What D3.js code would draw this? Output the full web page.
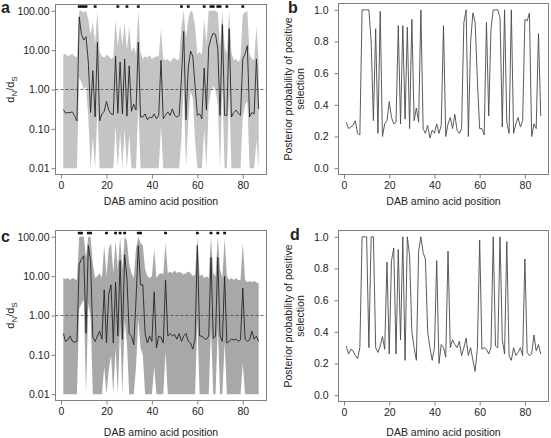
<!DOCTYPE html>
<html><head><meta charset="utf-8">
<script src="https://cdn.jsdelivr.net/npm/d3@7"></script>
<style>
body{margin:0;background:#fff}
svg{display:block}
text{font-family:"Liberation Sans",Arial,Helvetica,sans-serif;fill:#222}
</style></head>
<body><svg id="chart" width="551" height="438"></svg>
<script>
// ---------------- data ----------------
const sites = d3.range(1, 88); // DAB amino acid positions 1..87

// panel a : dN/dS median and credible band, panel b: posterior probability
const aMedian = [0.31,0.25,0.26,0.26,0.27,0.21,0.16,70,25,18,22,5,0.26,3,0.2,16,0.16,0.24,0.28,0.5,0.3,0.24,0.23,7,0.25,5,0.24,6,0.21,4,0.28,0.42,0.3,16,0.2,0.2,0.24,0.17,0.2,0.19,0.24,0.18,0.22,5.5,0.18,0.22,0.27,0.22,0.32,0.22,0.2,0.22,2,30,0.17,3.5,9.5,7,1.2,0.22,0.24,0.18,3.5,0.3,12,20,27,25,11,0.22,45,0.22,0.22,35,0.2,0.26,0.3,0.25,0.22,6,8,13,0.2,0.26,0.24,6,0.32];
const aUpper = [7.5,8,7,7.5,8,7,6.5,100,100,90,100,60,25,50,15,100,9,7,6.5,7.5,7,6,6.5,60,12,45,14,50,10,40,9,12,8,100,9,6,7,6.5,7.5,6,6.5,7,7,35,6,5.5,6,5,6,6.5,5.5,6,40,100,20,60,100,90,40,8,9,7.5,60,15,100,100,100,100,90,12,100,12,8,100,9,5.5,6,5,6,80,90,100,8,6,5.5,40,5];
const aLower = [0.01,0.01,0.01,0.01,0.01,0.01,0.01,2,1.5,1,1.2,0.2,0.01,0.06,0.01,0.3,0.01,0.01,0.01,0.01,0.01,0.01,0.01,0.12,0.01,0.08,0.01,0.1,0.01,0.07,0.01,0.01,0.01,0.4,0.01,0.01,0.01,0.01,0.01,0.01,0.01,0.01,0.01,0.12,0.01,0.01,0.01,0.01,0.01,0.01,0.01,0.01,0.06,1.2,0.01,0.15,0.9,0.6,0.05,0.01,0.01,0.01,0.1,0.01,0.4,0.9,1.2,1.0,0.4,0.01,1.2,0.01,0.01,0.9,0.01,0.01,0.01,0.01,0.01,0.2,0.4,0.5,0.01,0.01,0.01,0.05,0.01];
const bProb = [0.29,0.25,0.26,0.27,0.30,0.22,0.21,1.0,1.0,1.0,1.0,0.8,0.30,0.88,0.22,0.99,0.20,0.28,0.30,0.42,0.32,0.28,0.29,0.90,0.28,0.90,0.31,0.89,0.25,0.94,0.30,0.38,0.29,1.0,0.25,0.22,0.27,0.19,0.24,0.22,0.28,0.22,0.27,0.90,0.20,0.28,0.32,0.25,0.34,0.24,0.22,0.25,0.92,1.0,0.20,0.80,0.98,0.92,0.55,0.25,0.25,0.21,0.92,0.33,0.88,1.0,1.0,1.0,0.95,0.26,1.0,0.29,0.22,1.0,0.22,0.28,0.32,0.26,0.30,0.94,0.93,0.98,0.20,0.28,0.25,0.85,0.33];
const aSigSites = [8,9,10,11,15,25,29,34,53,56,63,66,67,69,70,73,80];

// panel c : dN/dS median and band, panel d: posterior probability
const cMedian = [0.35,0.22,0.24,0.3,0.22,0.21,0.22,20,27,33,0.35,60,25,0.28,0.22,0.3,0.4,0.25,4.5,0.2,3.5,6,0.2,7,0.3,25,0.25,35,9,0.35,0.3,0.18,2.5,60,6,6,0.35,0.2,0.3,0.22,4,0.15,0.3,0.28,0.2,8,0.3,0.35,0.3,0.33,0.25,0.35,0.22,0.3,0.35,0.22,0.2,0.14,0.25,60,0.3,0.3,0.26,0.25,0.3,30,0.26,0.3,30,0.3,0.22,10,0.2,0.22,0.25,0.24,0.25,0.22,0.24,5,0.25,0.22,0.24,0.4,0.25,0.3,0.22];
const cUpper = [9,8.5,9,8,9,8.5,8,100,100,100,30,100,100,20,9,10,12,9,60,10,50,70,12,80,15,100,15,100,80,20,12,9,50,100,70,60,15,10,9,10,50,9,11,12,11,70,12,13,12,14,12,13,12,11,12,13,12,10,11,100,10,11,9,10,9,100,12,10,100,15,9,90,10,8,9,8,9,8,8,70,8,7,7.5,7,7.5,7,6.5];
const cLower = [0.01,0.01,0.01,0.01,0.01,0.01,0.01,1.5,2,2.5,0.01,2,1,0.01,0.01,0.01,0.01,0.01,0.05,0.01,0.04,0.1,0.01,0.15,0.01,0.6,0.01,0.8,0.2,0.01,0.01,0.01,0.05,0.8,0.15,0.1,0.01,0.01,0.01,0.01,0.05,0.01,0.01,0.01,0.01,0.12,0.01,0.01,0.01,0.01,0.01,0.01,0.01,0.01,0.01,0.01,0.01,0.01,0.01,0.8,0.01,0.01,0.01,0.01,0.01,0.5,0.01,0.01,0.5,0.01,0.01,0.2,0.01,0.01,0.01,0.01,0.01,0.01,0.01,0.06,0.01,0.01,0.01,0.01,0.01,0.01,0.01];
const dProb = [0.31,0.26,0.29,0.28,0.25,0.23,0.30,1.0,1.0,1.0,0.30,1.0,1.0,0.30,0.27,0.31,0.37,0.29,0.84,0.26,0.85,0.93,0.26,0.92,0.35,1.0,0.22,1.0,0.88,0.40,0.30,0.22,0.91,1.0,0.90,0.86,0.40,0.30,0.22,0.30,0.85,0.20,0.32,0.30,0.24,0.91,0.30,0.35,0.32,0.30,0.34,0.25,0.30,0.36,0.25,0.30,0.22,0.15,0.30,0.98,0.29,0.30,0.29,0.26,0.30,1.0,0.31,0.30,1.0,0.35,0.26,0.97,0.25,0.22,0.30,0.25,0.27,0.30,0.25,0.86,0.27,0.25,0.26,0.38,0.28,0.32,0.26];
const cSigSites = [8,9,12,13,20,24,26,28,34,35,46,60,66,69,72];

// axes
const logTicks = [0.01,0.1,1,10,100];
const logTickLabels = ["0.01","0.10","1.00","10.00","100.00"];
const probTicks = [0,0.2,0.4,0.6,0.8,1.0];
const probTickLabels = ["0.0","0.2","0.4","0.6","0.8","1.0"];
const xTicks = [0,20,40,60,80];
const xTitle = "DAB amino acid position";
const probTitle = ["Posterior probability of positive","selection"];
const panelLetters = ["a","b","c","d"];

// ---------------- drawing ----------------
const svg = d3.select("#chart");
const FS = 10.5;
const nS = sites.length;
const xDom = [1 - 0.04*(nS-1), nS + 0.04*(nS-1)];
const logDom = [Math.pow(10,-2.16), Math.pow(10,2.16)];
const probDom = [-0.04, 1.04];

function makeAxes(g, x, y, yTicks, yLabels, opt){
  const [x0,x1] = x.range(), [yb,yt] = y.range();
  g.append("rect").attr("x",x0).attr("y",yt).attr("width",x1-x0).attr("height",yb-yt)
    .attr("fill","none").attr("stroke","#808080").attr("stroke-width",1);
  const ax = g.append("g").attr("transform",`translate(0,${yb})`)
    .call(d3.axisBottom(x).tickValues(xTicks).tickSize(4).tickPadding(3));
  const ay = g.append("g").attr("transform",`translate(${x0},0)`)
    .call(d3.axisLeft(y).tickValues(yTicks).tickFormat((d,i)=>yLabels[i]).tickSize(4).tickPadding(opt.yPad));
  [ax,ay].forEach(a=>{
    a.select(".domain").remove();
    a.selectAll("line").attr("stroke","#808080");
    a.selectAll("text").attr("font-size",FS).attr("fill","#222")
      .style("font-family",'"Liberation Sans",Arial,sans-serif');
  });
  g.append("text").attr("x",(x0+x1)/2).attr("y",opt.titleY).attr("text-anchor","middle")
    .attr("font-size",FS).text(xTitle);
}

function logPanel(opt){
  const g = svg.append("g");
  const x = d3.scaleLinear().domain(xDom).range(opt.xr);
  const y = d3.scaleLog().domain(logDom).range(opt.yr);
  const area = d3.area().x((d,i)=>x(sites[i])).y0((d,i)=>y(opt.lo[i])).y1((d,i)=>y(opt.up[i]));
  g.append("path").datum(opt.med).attr("d",area).attr("fill",opt.band).attr("stroke","none");
  g.append("line").attr("x1",opt.xr[0]).attr("x2",opt.xr[1]).attr("y1",y(1)).attr("y2",y(1))
    .attr("stroke","#444").attr("stroke-width",0.8).attr("stroke-dasharray","3,2");
  const line = d3.line().x((d,i)=>x(sites[i])).y(d=>y(d));
  g.append("path").datum(opt.med).attr("d",line).attr("fill","none").attr("stroke","#262626").attr("stroke-width",0.9);
  g.selectAll("rect.sig").data(opt.sig).enter().append("rect").attr("class","sig")
    .attr("x",d=>x(d-0.62)).attr("width",d=>x(d+0.62)-x(d-0.62))
    .attr("y",opt.sigY-1.2).attr("height",2.5).attr("fill","#111");
  makeAxes(g,x,y,logTicks,logTickLabels,opt);
  const t = g.append("text").attr("transform",`translate(${opt.ytX},${(opt.yr[0]+opt.yr[1])/2}) rotate(-90)`)
    .attr("text-anchor","middle").attr("font-size",11);
  t.append("tspan").text("d");
  t.append("tspan").attr("font-size",8).attr("dy",2.5).text("N");
  t.append("tspan").attr("dy",-2.5).text("/d");
  t.append("tspan").attr("font-size",8).attr("dy",2.5).text("S");
}

function probPanel(opt){
  const g = svg.append("g");
  const x = d3.scaleLinear().domain(xDom).range(opt.xr);
  const y = d3.scaleLinear().domain(probDom).range(opt.yr);
  const line = d3.line().x((d,i)=>x(sites[i])).y(d=>y(d));
  g.append("path").datum(opt.p).attr("d",line).attr("fill","none").attr("stroke","#4a4a4a").attr("stroke-width",0.9);
  makeAxes(g,x,y,probTicks,probTickLabels,opt);
  const cy = (opt.yr[0]+opt.yr[1])/2;
  probTitle.forEach((s,i)=>{
    g.append("text").attr("transform",`translate(${opt.ytX + i*12},${cy}) rotate(-90)`)
      .attr("text-anchor","middle").attr("font-size",FS).text(s);
  });
}

logPanel({xr:[55.5,266.5], yr:[174.5,4.5], med:aMedian, up:aUpper, lo:aLower, sig:aSigSites, sigY:6.5,
  band:"#c4c4c4", yPad:2, titleY:205, ytX:14});
probPanel({xr:[338.5,548.5], yr:[174.5,3.5], p:bProb, yPad:6, titleY:205, ytX:292});
logPanel({xr:[55.5,266.5], yr:[400.5,230.5], med:cMedian, up:cUpper, lo:cLower, sig:cSigSites, sigY:233,
  band:"#a8a8a8", yPad:2, titleY:436, ytX:14});
probPanel({xr:[338.5,548.5], yr:[401.5,230.5], p:dProb, yPad:6, titleY:436, ytX:292});

const letterPos = [[1,13],[288,13],[1,242],[290,240]];
panelLetters.forEach((s,i)=>{
  svg.append("text").attr("x",letterPos[i][0]).attr("y",letterPos[i][1])
    .attr("font-size",16).attr("font-weight","bold").attr("fill","#000").text(s);
});
</script>
</body></html>
